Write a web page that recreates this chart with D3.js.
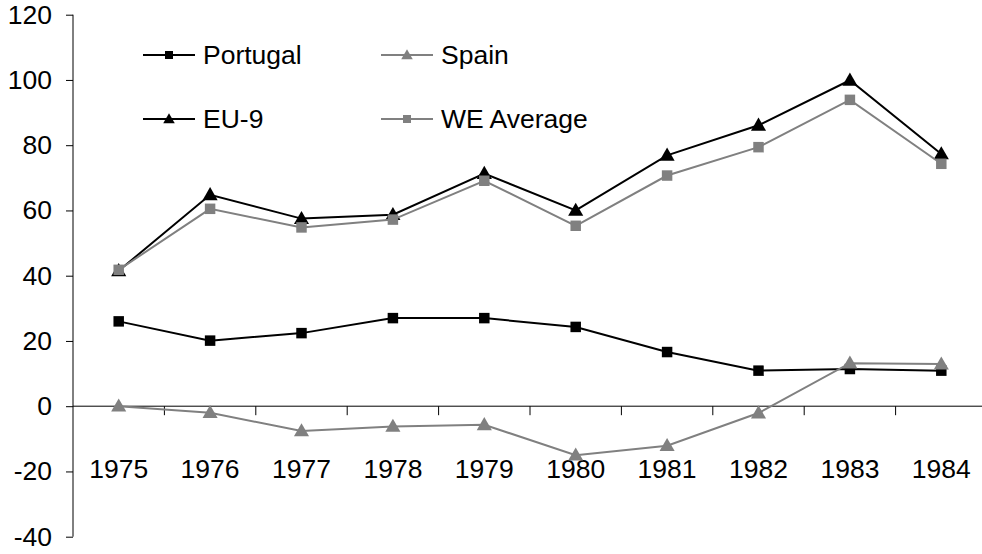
<!DOCTYPE html>
<html>
<head>
<meta charset="utf-8">
<script src="https://cdn.jsdelivr.net/npm/d3@7"></script>
<style>
  body { margin: 0; background: #fff; }
  svg { display: block; font-family: "Liberation Sans", Arial, sans-serif; }
</style>
</head>
<body>
<div id="chart"></div>
<script>
const years = ["1975", "1976", "1977", "1978", "1979", "1980", "1981", "1982", "1983", "1984"];
const portugal = [26, 20.1, 22.4, 27, 27, 24.3, 16.6, 10.9, 11.4, 10.9];
const spain = [0, -2, -7.6, -6.2, -5.7, -15, -12.1, -2.1, 13.2, 12.9];
const eu9 = [41.5, 64.8, 57.5, 58.7, 71.3, 60, 76.9, 86.1, 99.9, 77.3];
const weAverage = [41.8, 60.5, 54.8, 57.2, 69.1, 55.3, 70.7, 79.4, 93.9, 74.3];
const yTicks = [-40, -20, 0, 20, 40, 60, 80, 100, 120];

const series = [
  { name: "Portugal", values: portugal, color: "#000", symbol: "square" },
  { name: "Spain", values: spain, color: "#808080", symbol: "triangle" },
  { name: "EU-9", values: eu9, color: "#000", symbol: "triangle" },
  { name: "WE Average", values: weAverage, color: "#808080", symbol: "square" }
];

const width = 982, height = 554;
const fontSize = "26.5px";
const svg = d3.select("#chart").append("svg")
  .attr("width", width).attr("height", height);

const x = d3.scaleBand().domain(years).range([73, 987]);
const y = d3.scaleLinear().domain([-40, 120]).range([536.7, 14.7]);

// y axis
const yAxis = svg.append("g")
  .attr("transform", "translate(73,0)")
  .call(d3.axisLeft(y).tickValues(yTicks).tickSize(7).tickPadding(14).tickFormat(d => String(d)));
yAxis.select(".domain").attr("stroke", "#000").attr("d", `M0,${y(120)}V${y(-40)}`);
yAxis.selectAll(".tick line").attr("stroke", "#000");
yAxis.selectAll("text").style("font-size", fontSize).attr("fill", "#000");

// x axis at zero, ticks on band boundaries
const xAxisG = svg.append("g").attr("transform", `translate(0,${y(0)})`);
xAxisG.append("line").attr("x1", 73).attr("x2", 987).attr("stroke", "#000");
xAxisG.selectAll(".xtick").data(years)
  .join("line")
  .attr("class", "xtick")
  .attr("x1", d => x(d) + x.bandwidth())
  .attr("x2", d => x(d) + x.bandwidth())
  .attr("y1", 0).attr("y2", 9)
  .attr("stroke", "#000");

svg.append("g").selectAll("text").data(years).join("text")
  .attr("x", d => x(d) + x.bandwidth() / 2)
  .attr("y", 469)
  .attr("dy", "0.35em")
  .attr("text-anchor", "middle")
  .style("font-size", fontSize)
  .text(d => d);

const sq = d3.symbol().type(d3.symbolSquare);
const tri = d3.symbol().type(d3.symbolTriangle);

function marker(g, s, size) {
  const gen = s.symbol === "square" ? sq.size(size) : tri.size(size * 0.9);
  return g.append("path")
    .attr("d", gen())
    .attr("fill", s.color);
}

const line = d3.line()
  .x((d, i) => x(years[i]) + x.bandwidth() / 2)
  .y(d => y(d));

series.forEach(s => {
  const g = svg.append("g");
  g.append("path")
    .attr("d", line(s.values))
    .attr("fill", "none")
    .attr("stroke", s.color)
    .attr("stroke-width", 2);
  s.values.forEach((v, i) => {
    marker(g, s, 110).attr("transform",
      `translate(${x(years[i]) + x.bandwidth() / 2},${y(v) + (s.symbol === "triangle" ? 1 : 0)})`);
  });
});

// legend
const legendPos = [[143, 55], [381, 55], [143, 119], [381, 119]];
series.forEach((s, i) => {
  const [lx, ly] = legendPos[i];
  const g = svg.append("g").attr("transform", `translate(${lx},${ly})`);
  g.append("line").attr("x1", 0).attr("x2", 52).attr("y1", 0).attr("y2", 0)
    .attr("stroke", s.color).attr("stroke-width", 2);
  marker(g, s, 64).attr("transform", `translate(26,${s.symbol === "triangle" ? 1 : 0})`);
  g.append("text").attr("x", 60).attr("y", 0).attr("dy", "0.35em")
    .style("font-size", fontSize).text(s.name);
});
</script>
</body>
</html>
